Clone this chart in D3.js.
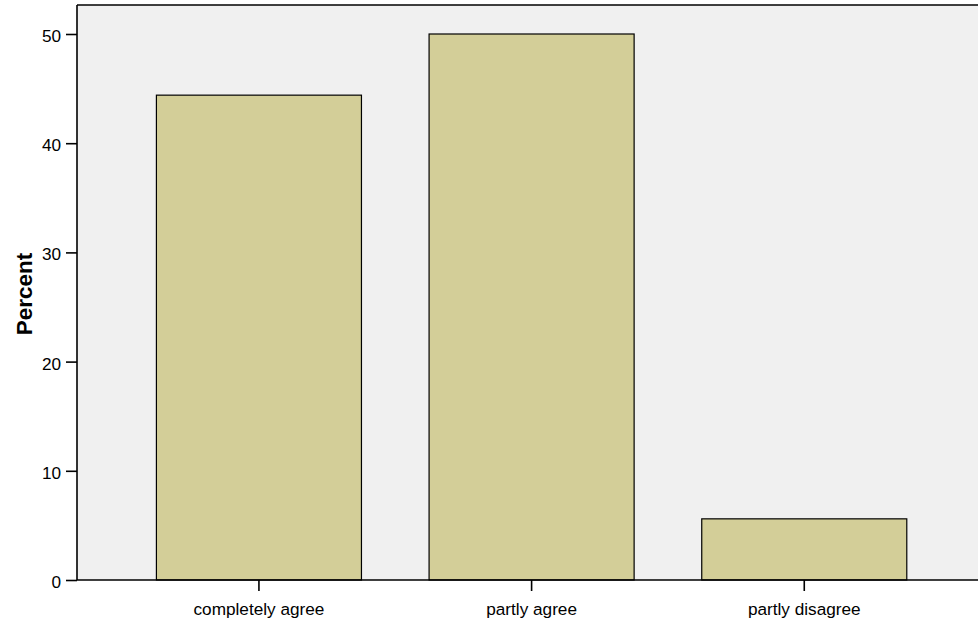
<!DOCTYPE html>
<html><head><meta charset="utf-8">
<script src="https://cdn.jsdelivr.net/npm/d3@7/dist/d3.min.js"></script>
<style>body{margin:0;background:#fff}svg{display:block}text{font-family:"Liberation Sans",Arial,sans-serif}</style>
</head><body>
<svg id="c" width="978" height="625"></svg>
<script>
const categories = ["completely agree", "partly agree", "partly disagree"];
const percents = [44.4, 50.0, 5.6];
const yTicks = [0, 10, 20, 30, 40, 50];

(function () {
const svg = d3.select("#c");
const pLeft = 77, pTop = 5, pRight = 978, pBottom = 580;
const fs = 17.2;

const y = d3.scaleLinear().domain([0, 50]).range([pBottom, 34]);
const x = d3.scaleBand().domain(categories).range([122.6, 940.6]).paddingInner(0.248).paddingOuter(0.124);

svg.append("rect").attr("x", pLeft).attr("y", pTop).attr("width", pRight - pLeft).attr("height", pBottom - pTop).attr("fill", "#f0f0f0");

svg.selectAll("rect.bar").data(categories).enter().append("rect")
  .attr("class", "bar")
  .attr("x", d => x(d)).attr("width", x.bandwidth())
  .attr("y", (d, i) => y(percents[i])).attr("height", (d, i) => y(0) - y(percents[i]))
  .attr("fill", "#d3ce98").attr("stroke", "#000").attr("stroke-width", 1.2);

svg.append("line").attr("x1", pLeft).attr("x2", pRight).attr("y1", pTop).attr("y2", pTop).attr("stroke", "#000").attr("stroke-width", 1.3);

const yAxis = svg.append("g").attr("transform", `translate(${pLeft},0)`)
  .call(d3.axisLeft(y).tickValues(yTicks).tickSize(11).tickPadding(5).tickFormat(d3.format("d")));
yAxis.select(".domain").attr("d", `M0,${pTop}V${pBottom}`).attr("stroke-width", 1.6);
yAxis.selectAll(".tick line").attr("stroke-width", 1.6);
yAxis.selectAll("text").attr("font-size", fs).attr("fill", "#000").attr("dy", "0.44em");

const xAxis = svg.append("g").attr("transform", `translate(0,${pBottom})`)
  .call(d3.axisBottom(x).tickSize(11).tickPadding(12));
xAxis.select(".domain").attr("d", `M${pLeft},0H${pRight}`).attr("stroke-width", 1.6);
xAxis.selectAll(".tick line").attr("stroke-width", 1.6);
xAxis.selectAll("text").attr("font-size", fs).attr("fill", "#000");

svg.append("text").attr("transform", `translate(32,294) rotate(-90)`)
  .attr("text-anchor", "middle").attr("font-size", 22.5).attr("font-weight", "bold").text("Percent");
})();
</script>
</body></html>
